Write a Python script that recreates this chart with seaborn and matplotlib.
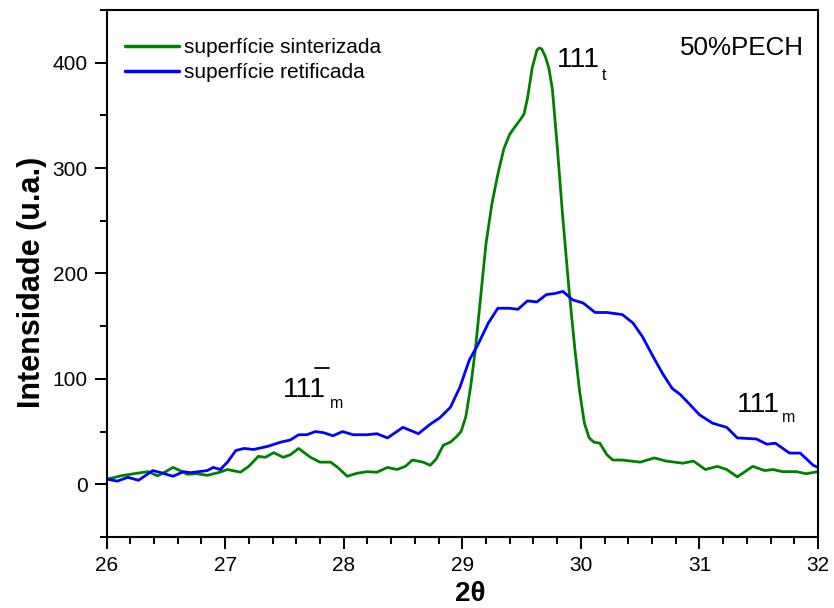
import matplotlib
matplotlib.use("Agg")
import matplotlib.pyplot as plt
from matplotlib.ticker import MultipleLocator
import seaborn as sns
import pandas as pd

# XRD diffractograms, 50%PECH sample
two_theta_sint = [26.00, 26.05, 26.12, 26.23, 26.35, 26.43, 26.50, 26.56, 26.62, 26.68,
                  26.76, 26.85, 26.94, 27.02, 27.13, 27.20, 27.28, 27.34, 27.41, 27.49,
                  27.55, 27.62, 27.72, 27.80, 27.89, 27.95, 28.03, 28.11, 28.20, 28.28,
                  28.37, 28.45, 28.52, 28.58, 28.67, 28.73, 28.78, 28.84, 28.90, 28.95,
                  28.99, 29.03, 29.07, 29.11, 29.15, 29.20, 29.25, 29.30, 29.35, 29.40,
                  29.45, 29.49, 29.52, 29.55, 29.59, 29.63, 29.65, 29.67, 29.70, 29.73,
                  29.76, 29.80, 29.845, 29.90, 29.95, 29.99, 30.03, 30.07, 30.11, 30.16,
                  30.22, 30.27, 30.35, 30.50, 30.62, 30.72, 30.86, 30.95, 31.05, 31.15,
                  31.23, 31.32, 31.45, 31.55, 31.62, 31.70, 31.82, 31.90, 32.00]
intens_sint = [5, 6, 8, 10, 12, 8, 12, 16, 13, 9.5,
               10, 8.5, 11, 14, 11.5, 17, 26.5, 25.6, 30, 25.6,
               28, 34, 25.6, 21, 21, 16, 7.6, 10.4, 12, 11.4,
               16, 14, 17, 23, 21, 18, 24, 37, 40, 45,
               50, 64, 92, 127, 172, 228, 266, 294, 318, 332,
               340, 346, 351, 366, 395, 412, 414, 413, 406, 395,
               375, 322, 257, 185, 128, 88, 58, 44, 40, 39,
               28, 23, 23, 21, 25, 22, 20, 22, 14, 17,
               14, 7, 17, 13, 14, 12, 12, 10, 12]

two_theta_ret = [26.00, 26.09, 26.18, 26.27, 26.39, 26.46, 26.56, 26.65, 26.71, 26.85,
                 26.90, 26.96, 27.02, 27.09, 27.16, 27.24, 27.36, 27.47, 27.55, 27.62,
                 27.69, 27.76, 27.83, 27.91, 27.99, 28.08, 28.20, 28.28, 28.37, 28.50,
                 28.63, 28.73, 28.81, 28.90, 28.98, 29.06, 29.13, 29.22, 29.30, 29.40,
                 29.47, 29.55, 29.63, 29.71, 29.78, 29.85, 29.93, 30.02, 30.12, 30.22,
                 30.35, 30.44, 30.52, 30.61, 30.69, 30.77, 30.84, 30.90, 31.00, 31.11,
                 31.23, 31.32, 31.48, 31.57, 31.64, 31.76, 31.85, 31.96, 32.00]
intens_ret = [5, 3, 6.6, 3.8, 13, 11, 7.6, 12, 11, 13,
              16, 14, 21, 32, 34, 33, 36, 40, 42, 47,
              47, 50, 49, 46, 50, 47, 47, 48, 44, 54,
              48, 57, 63, 73, 92, 118, 132, 153, 167, 167,
              166, 174, 173, 180, 181, 183, 175, 172, 163, 163,
              161, 153, 140, 121, 105, 91, 85, 78, 66, 58,
              54, 44, 43, 38, 39, 29.6, 29.6, 18, 16]

series_names = ["superfície sinterizada", "superfície retificada"]
series_colors = ["#008000", "#0000FF"]

df = pd.concat([
    pd.DataFrame({"2theta": two_theta_sint, "I": intens_sint, "amostra": series_names[0]}),
    pd.DataFrame({"2theta": two_theta_ret, "I": intens_ret, "amostra": series_names[1]}),
], ignore_index=True)

sns.set_theme(style="white")
plt.rcParams["font.family"] = ["Liberation Sans", "DejaVu Sans"]
plt.rcParams["text.color"] = "black"
plt.rcParams["axes.labelcolor"] = "black"
plt.rcParams["xtick.color"] = "black"
plt.rcParams["ytick.color"] = "black"

fig = plt.figure(figsize=(8.34, 6.08), dpi=100)
ax = fig.add_axes([0.1277, 0.1168, 0.8531, 0.8668])

sns.lineplot(data=df, x="2theta", y="I", hue="amostra", hue_order=series_names,
             palette=series_colors, estimator=None, sort=False, linewidth=2.0, ax=ax)

ax.set_xlim(26, 32)
ax.set_ylim(-50, 450)
ax.xaxis.set_major_locator(MultipleLocator(1))
ax.xaxis.set_minor_locator(MultipleLocator(0.2))
ax.yaxis.set_minor_locator(MultipleLocator(50))
ax.set_yticks([0, 100, 200, 300, 400])

ax.tick_params(axis="both", which="major", direction="out", length=8.5, width=1.4,
               labelsize=15, colors="black", pad=5)
ax.tick_params(axis="both", which="minor", direction="out", length=5, width=1.4,
               colors="black")
ax.tick_params(top=False, right=False, which="both")
ax.tick_params(bottom=True, left=True, which="both")
for sp in ax.spines.values():
    sp.set_color("black")
    sp.set_linewidth(1.5)

ax.set_xlabel("2θ", fontsize=20, fontweight="bold")
ax.set_ylabel("Intensidade (u.a.)", fontsize=22, fontweight="bold")
ax.xaxis.set_label_coords(0.511, -0.083)
ax.yaxis.set_label_coords(-0.084, 0.484)

leg = ax.legend(loc="upper left", bbox_to_anchor=(0.0, 0.982), frameon=False,
                fontsize=15, handlelength=2.6, handletextpad=0.2,
                labelspacing=0.3, borderaxespad=0.5)
for line in leg.get_lines():
    line.set_linewidth(2.5)
for t in leg.get_texts():
    t.set_color("black")

# reflection labels
ax.text(29.80, 396, "111", fontsize=20.5, ha="left", va="baseline")
ax.text(30.175, 384, "t", fontsize=11.5, ha="left", va="baseline")

ax.text(27.49, 83, "111", fontsize=20.5, ha="left", va="baseline")
ax.text(27.88, 72, "m", fontsize=11.5, ha="left", va="baseline")
ax.plot([27.76, 27.88], [110.5, 110.5], color="black", linewidth=1.3)

ax.text(31.315, 68.6, "111", fontsize=20.5, ha="left", va="baseline")
ax.text(31.70, 59, "m", fontsize=11.5, ha="left", va="baseline")

ax.text(0.806, 0.915, "50%PECH", fontsize=18.7, ha="left", va="baseline",
        transform=ax.transAxes)

fig.savefig("out.png", dpi=100)
